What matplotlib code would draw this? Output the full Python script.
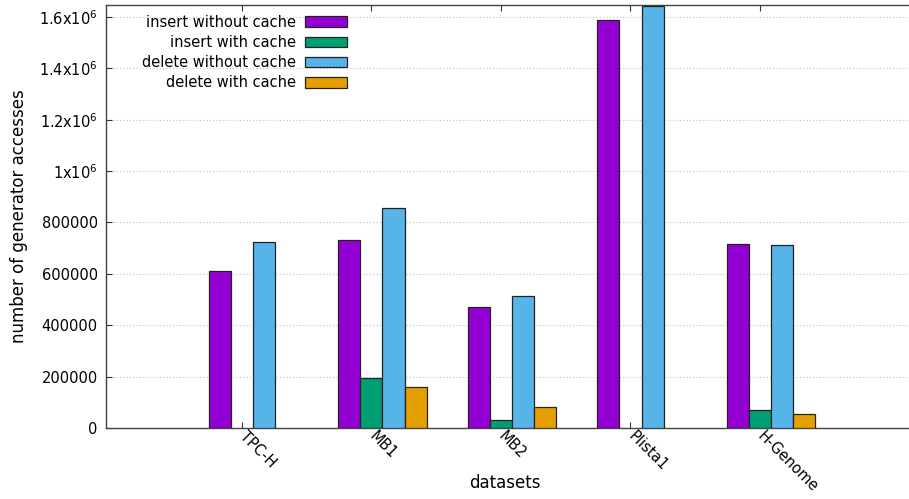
import numpy as np
import matplotlib
matplotlib.use("Agg")
import matplotlib.pyplot as plt

# values (0 = no bar drawn)
datasets = ["TPC-H", "MB1", "MB2", "Plista1", "H-Genome"]
series_names = ["insert without cache", "insert with cache",
                "delete without cache", "delete with cache"]
insert_no_cache = [612000, 731000, 470000, 1588000, 715000]
insert_cache = [0, 193000, 31000, 0, 70000]
delete_no_cache = [725000, 856000, 515000, 1642000, 712000]
delete_cache = [0, 158000, 83000, 0, 56000]
colors = ["#9400d3", "#009e73", "#56b4e9", "#e69f00"]

ytick_vals = [0, 200000, 400000, 600000, 800000, 1000000, 1200000, 1400000, 1600000]
ytick_labels = ["0", "200000", "400000", "600000", "800000",
                r"1x10$^{6}$", r"1.2x10$^{6}$", r"1.4x10$^{6}$", r"1.6x10$^{6}$"]


def main():
    plt.rcParams["font.family"] = ["DejaVu Sans"]
    plt.rcParams["mathtext.default"] = "regular"
    fig = plt.figure(figsize=(9.09, 4.99), dpi=100)
    # right edge of the frame runs past the image, like the cropped reference
    ax = fig.add_axes([106 / 909, 71 / 499, 812 / 909, 423 / 499])

    x = np.arange(len(datasets))
    w = 0.17
    all_series = [insert_no_cache, insert_cache, delete_no_cache, delete_cache]
    for i, (vals, name, col) in enumerate(zip(all_series, series_names, colors)):
        vals = np.array(vals, dtype=float)
        keep = vals > 0
        ax.bar(x[keep] + (i - 1) * w, vals[keep], width=w, color=col,
               edgecolor="#222222", linewidth=0.9, label=name, zorder=3)

    ax.set_xlim(-1.05, 5.22)
    ax.set_ylim(0, 1646700)

    ax.set_yticks(ytick_vals)
    ax.set_yticklabels(ytick_labels)
    ax.set_xticks(x)
    ax.set_xticklabels(datasets, rotation=-45, ha="left", va="center",
                       rotation_mode="anchor")
    ax.tick_params(axis="both", direction="in", labelsize=10.5, color="#333333",
                   top=True, right=True, length=4)
    ax.tick_params(axis="x", pad=4)
    ax.tick_params(axis="y", pad=6)

    ax.yaxis.grid(True, linestyle=(0, (1, 2)), color="#c0c0c0", linewidth=0.8, zorder=0)
    for s in ax.spines.values():
        s.set_color("#444444")
        s.set_linewidth(1.0)

    ax.set_ylabel("number of generator accesses", fontsize=12, labelpad=8)
    fig.text(505 / 909, 1 - 483 / 499, "datasets", fontsize=12,
             ha="center", va="center")

    leg = ax.legend(loc="upper left", bbox_to_anchor=(0.028, 1.008), frameon=False,
                    markerfirst=False, fontsize=10.5, handlelength=2.9,
                    handleheight=0.75, labelspacing=0.36, handletextpad=0.6,
                    borderaxespad=0.5)
    for t in leg.get_texts():
        t.set_ha("right")
    leg._legend_box.align = "right"

    fig.savefig("out.png", dpi=100)
    plt.close(fig)


if __name__ == "__main__":
    main()
